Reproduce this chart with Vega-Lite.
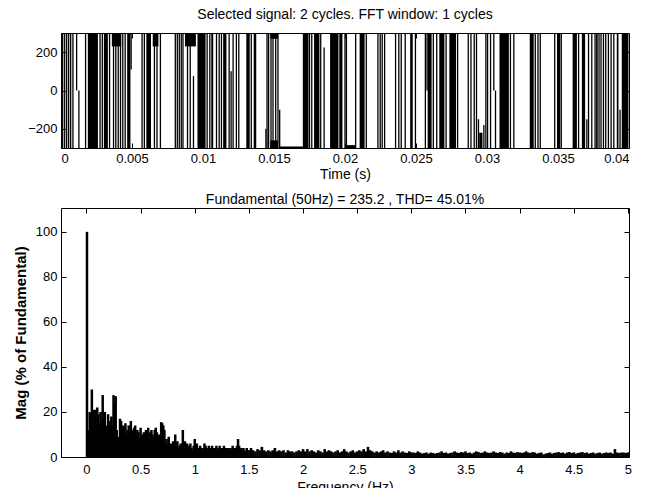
{
"$schema": "https://vega.github.io/schema/vega-lite/v6.json",
"background": "white",
"padding": {"left": 12, "top": 7, "right": 5, "bottom": 5},
"spacing": 10,
"config": {
  "font": "Liberation Sans",
  "view": {"stroke": "black", "strokeWidth": 1},
  "axis": {"grid": false, "domain": false, "tickColor": "black", "tickSize": -5, "labelColor": "black", "labelFontSize": 13, "labelPadding": 9, "titleFontSize": 14, "titleFontWeight": "normal", "titleColor": "black", "titlePadding": 2},
  "title": {"fontSize": 14, "fontWeight": "normal", "color": "black"}
},
"datasets": {
  "blocks": [
    {"t0":0.00189,"t1":0.00260,"lo":-300,"hi":300},
    {"t0":0.00302,"t1":0.00330,"lo":-300,"hi":300},
    {"t0":0.00358,"t1":0.00424,"lo":230,"hi":300},
    {"t0":0.00466,"t1":0.00489,"lo":-300,"hi":300},
    {"t0":0.00601,"t1":0.00634,"lo":-300,"hi":300},
    {"t0":0.00646,"t1":0.00686,"lo":230,"hi":300},
    {"t0":0.00873,"t1":0.00950,"lo":230,"hi":300},
    {"t0":0.00961,"t1":0.01018,"lo":-300,"hi":300},
    {"t0":0.01058,"t1":0.01072,"lo":-300,"hi":300},
    {"t0":0.01142,"t1":0.01165,"lo":-300,"hi":300},
    {"t0":0.01305,"t1":0.01329,"lo":-300,"hi":300},
    {"t0":0.01357,"t1":0.01375,"lo":-300,"hi":300},
    {"t0":0.01474,"t1":0.01528,"lo":270,"hi":300},
    {"t0":0.01474,"t1":0.01528,"lo":-300,"hi":-260},
    {"t0":0.01540,"t1":0.01703,"lo":-300,"hi":-292},
    {"t0":0.01703,"t1":0.01743,"lo":-300,"hi":300},
    {"t0":0.01782,"t1":0.01820,"lo":-300,"hi":300},
    {"t0":0.01895,"t1":0.01954,"lo":-300,"hi":300},
    {"t0":0.01963,"t1":0.01982,"lo":-300,"hi":300},
    {"t0":0.02000,"t1":0.02070,"lo":-300,"hi":-285},
    {"t0":0.02103,"t1":0.02138,"lo":-300,"hi":300},
    {"t0":0.02459,"t1":0.02477,"lo":-300,"hi":300},
    {"t0":0.02582,"t1":0.02610,"lo":-300,"hi":300},
    {"t0":0.02664,"t1":0.02700,"lo":-300,"hi":300},
    {"t0":0.02735,"t1":0.02782,"lo":-300,"hi":300},
    {"t0":0.02945,"t1":0.02968,"lo":-300,"hi":-220},
    {"t0":0.03088,"t1":0.03154,"lo":-300,"hi":300},
    {"t0":0.03301,"t1":0.03329,"lo":-300,"hi":300},
    {"t0":0.03493,"t1":0.03516,"lo":-300,"hi":300},
    {"t0":0.03603,"t1":0.03633,"lo":-300,"hi":300},
    {"t0":0.03668,"t1":0.03691,"lo":-300,"hi":300},
    {"t0":0.03768,"t1":0.03780,"lo":-300,"hi":300},
    {"t0":0.03914,"t1":0.03926,"lo":-300,"hi":300},
    {"t0":0.03949,"t1":0.03996,"lo":-300,"hi":300}
  ],
  "lines": [
    {"t":0.00012,"lo":-300,"hi":300},{"t":0.00026,"lo":-300,"hi":300},{"t":0.00040,"lo":-300,"hi":300},
    {"t":0.00054,"lo":-300,"hi":300},{"t":0.00068,"lo":-300,"hi":300},{"t":0.00084,"lo":-300,"hi":300},
    {"t":0.00110,"lo":0,"hi":300},{"t":0.00126,"lo":-300,"hi":0},{"t":0.00173,"lo":-300,"hi":300},
    {"t":0.00275,"lo":-300,"hi":300},{"t":0.00291,"lo":-300,"hi":300},{"t":0.00342,"lo":-300,"hi":300},
    {"t":0.00370,"lo":-300,"hi":300},{"t":0.00386,"lo":-300,"hi":300},{"t":0.00403,"lo":-300,"hi":300},
    {"t":0.00419,"lo":-300,"hi":300},{"t":0.00435,"lo":-300,"hi":300},{"t":0.00452,"lo":-300,"hi":300},
    {"t":0.00494,"lo":110,"hi":300},{"t":0.00571,"lo":-300,"hi":300},{"t":0.00587,"lo":-300,"hi":300},
    {"t":0.00658,"lo":-300,"hi":300},{"t":0.00676,"lo":-300,"hi":300},{"t":0.00700,"lo":-300,"hi":300},
    {"t":0.00805,"lo":-300,"hi":300},{"t":0.00819,"lo":-300,"hi":300},{"t":0.00833,"lo":-300,"hi":300},
    {"t":0.00847,"lo":-300,"hi":300},{"t":0.00859,"lo":-300,"hi":300},{"t":0.00891,"lo":-300,"hi":300},
    {"t":0.00910,"lo":-300,"hi":300},{"t":0.00933,"lo":-300,"hi":75},{"t":0.01029,"lo":-300,"hi":300},
    {"t":0.01048,"lo":-300,"hi":300},{"t":0.01095,"lo":-300,"hi":300},{"t":0.01114,"lo":-300,"hi":300},
    {"t":0.01130,"lo":-300,"hi":300},{"t":0.01184,"lo":-300,"hi":300},{"t":0.01198,"lo":-300,"hi":100},
    {"t":0.01212,"lo":-300,"hi":300},{"t":0.01235,"lo":-300,"hi":300},{"t":0.01252,"lo":-300,"hi":300},
    {"t":0.01340,"lo":-300,"hi":300},{"t":0.01443,"lo":-300,"hi":-200},{"t":0.01451,"lo":-300,"hi":300},
    {"t":0.01462,"lo":-300,"hi":300},{"t":0.01479,"lo":-300,"hi":300},{"t":0.01493,"lo":-300,"hi":300},
    {"t":0.01512,"lo":-300,"hi":300},{"t":0.01528,"lo":-300,"hi":300},{"t":0.01540,"lo":-300,"hi":-100},
    {"t":0.01750,"lo":-300,"hi":300},{"t":0.01766,"lo":-300,"hi":300},{"t":0.01829,"lo":-300,"hi":300},
    {"t":0.01853,"lo":-300,"hi":225},{"t":0.01965,"lo":-300,"hi":300},{"t":0.02000,"lo":-300,"hi":300},
    {"t":0.02010,"lo":-300,"hi":300},{"t":0.02075,"lo":-300,"hi":300},{"t":0.02150,"lo":-300,"hi":300},
    {"t":0.02232,"lo":-300,"hi":300},{"t":0.02248,"lo":-300,"hi":300},{"t":0.02262,"lo":-300,"hi":300},
    {"t":0.02279,"lo":-300,"hi":300},{"t":0.02356,"lo":-300,"hi":300},{"t":0.02379,"lo":-300,"hi":300},
    {"t":0.02396,"lo":-300,"hi":300},{"t":0.02424,"lo":-300,"hi":300},{"t":0.02496,"lo":-300,"hi":300},
    {"t":0.02566,"lo":-300,"hi":300},{"t":0.02578,"lo":0,"hi":300},{"t":0.02622,"lo":-300,"hi":300},
    {"t":0.02646,"lo":-300,"hi":300},{"t":0.02712,"lo":-300,"hi":300},{"t":0.02793,"lo":-300,"hi":300},
    {"t":0.02868,"lo":-300,"hi":300},{"t":0.02887,"lo":-300,"hi":300},{"t":0.02910,"lo":-300,"hi":300},
    {"t":0.02926,"lo":-300,"hi":300},{"t":0.02940,"lo":-300,"hi":-150},{"t":0.02978,"lo":-300,"hi":-180},
    {"t":0.02992,"lo":-300,"hi":300},{"t":0.03004,"lo":-300,"hi":300},{"t":0.03025,"lo":-300,"hi":300},
    {"t":0.03048,"lo":0,"hi":300},{"t":0.03060,"lo":-300,"hi":0},{"t":0.03165,"lo":-300,"hi":300},
    {"t":0.03189,"lo":-300,"hi":300},{"t":0.03340,"lo":-300,"hi":300},{"t":0.03359,"lo":-300,"hi":300},
    {"t":0.03375,"lo":-300,"hi":300},{"t":0.03477,"lo":-300,"hi":300},{"t":0.03523,"lo":-300,"hi":300},
    {"t":0.03645,"lo":-300,"hi":300},{"t":0.03703,"lo":-300,"hi":-150},{"t":0.03715,"lo":-300,"hi":300},
    {"t":0.03738,"lo":-300,"hi":300},{"t":0.03761,"lo":-300,"hi":300},{"t":0.03789,"lo":-300,"hi":300},
    {"t":0.03803,"lo":-300,"hi":300},{"t":0.03820,"lo":-300,"hi":300},{"t":0.03836,"lo":-300,"hi":300},
    {"t":0.03855,"lo":-300,"hi":300},{"t":0.03874,"lo":-300,"hi":300},{"t":0.03893,"lo":-300,"hi":300},
    {"t":0.03937,"lo":-300,"hi":-100}
  ],
  "spectrum": [
    {"f":0.005,"m":100},
    {"f":0.01,"m":9},{"f":0.02,"m":12},{"f":0.03,"m":20},{"f":0.04,"m":18},{"f":0.05,"m":30},{"f":0.06,"m":21},{"f":0.07,"m":17},{"f":0.08,"m":21},{"f":0.09,"m":14},{"f":0.10,"m":22},
    {"f":0.11,"m":19},{"f":0.12,"m":15},{"f":0.13,"m":20},{"f":0.14,"m":16},{"f":0.15,"m":27.5},{"f":0.16,"m":17},{"f":0.17,"m":20},{"f":0.18,"m":14},{"f":0.19,"m":12},{"f":0.20,"m":19},
    {"f":0.21,"m":16},{"f":0.22,"m":13},{"f":0.23,"m":18},{"f":0.24,"m":14},{"f":0.25,"m":27.5},{"f":0.26,"m":24},{"f":0.27,"m":27},{"f":0.28,"m":12},{"f":0.29,"m":9},{"f":0.30,"m":8},
    {"f":0.31,"m":17},{"f":0.32,"m":16},{"f":0.33,"m":11},{"f":0.34,"m":14},{"f":0.35,"m":13},{"f":0.36,"m":15},{"f":0.37,"m":10},{"f":0.38,"m":12},{"f":0.39,"m":14},{"f":0.40,"m":11},
    {"f":0.41,"m":16},{"f":0.42,"m":12},{"f":0.43,"m":10},{"f":0.44,"m":13},{"f":0.45,"m":14},{"f":0.46,"m":9},{"f":0.47,"m":12},{"f":0.48,"m":11},{"f":0.49,"m":8},{"f":0.50,"m":13},
    {"f":0.51,"m":9},{"f":0.52,"m":10},{"f":0.53,"m":11},{"f":0.54,"m":8},{"f":0.55,"m":12},{"f":0.56,"m":9},{"f":0.57,"m":13},{"f":0.58,"m":8},{"f":0.59,"m":11},{"f":0.60,"m":12},
    {"f":0.61,"m":10},{"f":0.62,"m":9},{"f":0.63,"m":12},{"f":0.64,"m":13},{"f":0.65,"m":11},{"f":0.66,"m":8},{"f":0.67,"m":10},{"f":0.68,"m":7},{"f":0.69,"m":15.5},{"f":0.70,"m":15},
    {"f":0.71,"m":14},{"f":0.72,"m":12},{"f":0.73,"m":6},{"f":0.74,"m":8},{"f":0.75,"m":5},{"f":0.76,"m":9},{"f":0.77,"m":5},{"f":0.78,"m":6},{"f":0.79,"m":4},{"f":0.80,"m":7},
    {"f":0.81,"m":6},{"f":0.82,"m":10},{"f":0.83,"m":5},{"f":0.84,"m":7},{"f":0.85,"m":4},{"f":0.86,"m":5},{"f":0.87,"m":6},{"f":0.88,"m":5},{"f":0.89,"m":12},{"f":0.90,"m":5},
    {"f":0.91,"m":7},{"f":0.92,"m":5},{"f":0.93,"m":6},{"f":0.94,"m":4},{"f":0.95,"m":5},{"f":0.96,"m":6},{"f":0.97,"m":4},{"f":0.98,"m":3},{"f":0.99,"m":5},{"f":1.00,"m":8},
    {"f":1.01,"m":5},{"f":1.02,"m":6},{"f":1.03,"m":4},{"f":1.04,"m":3},{"f":1.05,"m":5},{"f":1.06,"m":4},{"f":1.07,"m":3},{"f":1.08,"m":4},{"f":1.09,"m":6},{"f":1.10,"m":5},
    {"f":1.11,"m":4},{"f":1.12,"m":3},{"f":1.13,"m":5},{"f":1.14,"m":4},{"f":1.15,"m":3},{"f":1.16,"m":5},{"f":1.17,"m":4},{"f":1.18,"m":3},{"f":1.19,"m":4},{"f":1.20,"m":5},
    {"f":1.21,"m":3},{"f":1.22,"m":4},{"f":1.23,"m":5},{"f":1.24,"m":3},{"f":1.25,"m":4},{"f":1.26,"m":3},{"f":1.27,"m":5},{"f":1.28,"m":4},{"f":1.29,"m":3},{"f":1.30,"m":4},
    {"f":1.31,"m":3},{"f":1.32,"m":4},{"f":1.33,"m":3},{"f":1.34,"m":4},{"f":1.35,"m":5},{"f":1.36,"m":3},{"f":1.37,"m":4},{"f":1.38,"m":3},{"f":1.39,"m":5},{"f":1.40,"m":8},
    {"f":1.41,"m":5},{"f":1.42,"m":3},{"f":1.43,"m":4},{"f":1.44,"m":3},{"f":1.45,"m":4},{"f":1.46,"m":3},{"f":1.47,"m":2.5},{"f":1.48,"m":4},{"f":1.49,"m":3},{"f":1.50,"m":3},
    {"f":1.52,"m":4},{"f":1.54,"m":3},{"f":1.56,"m":2.5},{"f":1.58,"m":3.5},{"f":1.60,"m":3},{"f":1.62,"m":4.5},{"f":1.64,"m":3},{"f":1.66,"m":2.5},{"f":1.68,"m":3},{"f":1.70,"m":2.5},
    {"f":1.72,"m":3},{"f":1.74,"m":4},{"f":1.76,"m":2.5},{"f":1.78,"m":3},{"f":1.80,"m":2.5},{"f":1.82,"m":3},{"f":1.84,"m":2},{"f":1.86,"m":3},{"f":1.88,"m":2.5},{"f":1.90,"m":2.5},
    {"f":1.92,"m":2},{"f":1.94,"m":2.5},{"f":1.96,"m":3},{"f":1.98,"m":2.5},{"f":2.00,"m":3.5},
    {"f":2.02,"m":2.5},{"f":2.04,"m":3.5},{"f":2.06,"m":2.5},{"f":2.08,"m":3},{"f":2.10,"m":2.5},{"f":2.12,"m":2},{"f":2.14,"m":3},{"f":2.16,"m":2.5},{"f":2.18,"m":2},{"f":2.20,"m":3.5},
    {"f":2.22,"m":2.5},{"f":2.24,"m":3},{"f":2.26,"m":2.5},{"f":2.28,"m":2},{"f":2.30,"m":2.5},{"f":2.32,"m":3},{"f":2.34,"m":2},{"f":2.36,"m":2.5},{"f":2.38,"m":3.5},{"f":2.40,"m":2.5},
    {"f":2.42,"m":2},{"f":2.44,"m":2.5},{"f":2.46,"m":3},{"f":2.48,"m":2},{"f":2.50,"m":2.5},{"f":2.52,"m":3},{"f":2.54,"m":2.5},{"f":2.56,"m":3.5},{"f":2.58,"m":2.5},{"f":2.60,"m":4.5},
    {"f":2.62,"m":3},{"f":2.64,"m":2.5},{"f":2.66,"m":2},{"f":2.68,"m":2.5},{"f":2.70,"m":2},{"f":2.72,"m":2.5},{"f":2.74,"m":3},{"f":2.76,"m":2},{"f":2.78,"m":2.5},{"f":2.80,"m":2},
    {"f":2.82,"m":1.8},{"f":2.84,"m":2.5},{"f":2.86,"m":2},{"f":2.88,"m":3},{"f":2.90,"m":2},{"f":2.92,"m":2.5},{"f":2.94,"m":2},{"f":2.96,"m":1.8},{"f":2.98,"m":2.5},{"f":3.00,"m":2},
    {"f":3.02,"m":2},{"f":3.04,"m":1.8},{"f":3.06,"m":2.5},{"f":3.08,"m":2},{"f":3.10,"m":1.5},{"f":3.12,"m":1.8},{"f":3.14,"m":2},{"f":3.16,"m":1.5},{"f":3.18,"m":2},{"f":3.20,"m":1.8},
    {"f":3.22,"m":1.5},{"f":3.24,"m":1.8},{"f":3.26,"m":2},{"f":3.28,"m":2.5},{"f":3.30,"m":1.8},{"f":3.32,"m":2},{"f":3.34,"m":1.5},{"f":3.36,"m":1.8},{"f":3.38,"m":2},{"f":3.40,"m":2.5},
    {"f":3.42,"m":2},{"f":3.44,"m":1.8},{"f":3.46,"m":2.2},{"f":3.48,"m":2},{"f":3.50,"m":2.5},{"f":3.52,"m":1.8},{"f":3.54,"m":2},{"f":3.56,"m":1.5},{"f":3.58,"m":2},{"f":3.60,"m":2.5},
    {"f":3.62,"m":2.2},{"f":3.64,"m":1.8},{"f":3.66,"m":2},{"f":3.68,"m":2.5},{"f":3.70,"m":2},{"f":3.72,"m":1.8},{"f":3.74,"m":2},{"f":3.76,"m":2.5},{"f":3.78,"m":2},{"f":3.80,"m":1.8},
    {"f":3.82,"m":2.2},{"f":3.84,"m":2},{"f":3.86,"m":1.5},{"f":3.88,"m":2},{"f":3.90,"m":1.8},{"f":3.92,"m":2.5},{"f":3.94,"m":2},{"f":3.96,"m":1.8},{"f":3.98,"m":2.2},{"f":4.00,"m":2},
    {"f":4.02,"m":1.8},{"f":4.04,"m":2},{"f":4.06,"m":2.5},{"f":4.08,"m":2},{"f":4.10,"m":1.8},{"f":4.12,"m":2.2},{"f":4.14,"m":2},{"f":4.16,"m":1.5},{"f":4.18,"m":1.8},{"f":4.20,"m":2},
    {"f":4.22,"m":1.2},{"f":4.24,"m":1.5},{"f":4.26,"m":1.8},{"f":4.28,"m":2},{"f":4.30,"m":1.5},{"f":4.32,"m":1.8},{"f":4.34,"m":2},{"f":4.36,"m":2.2},{"f":4.38,"m":1.8},{"f":4.40,"m":2},
    {"f":4.42,"m":1.5},{"f":4.44,"m":2},{"f":4.46,"m":2.2},{"f":4.48,"m":1.8},{"f":4.50,"m":2},{"f":4.52,"m":1.5},{"f":4.54,"m":1.8},{"f":4.56,"m":2},{"f":4.58,"m":2.2},{"f":4.60,"m":1.8},
    {"f":4.62,"m":2},{"f":4.64,"m":1.5},{"f":4.66,"m":1.8},{"f":4.68,"m":2},{"f":4.70,"m":1.5},{"f":4.72,"m":1.8},{"f":4.74,"m":2},{"f":4.76,"m":1.5},{"f":4.78,"m":1.8},{"f":4.80,"m":2},
    {"f":4.82,"m":1.8},{"f":4.84,"m":2},{"f":4.86,"m":1.5},{"f":4.88,"m":3.5},{"f":4.90,"m":2},{"f":4.92,"m":1.8},{"f":4.94,"m":2},{"f":4.96,"m":2},{"f":4.98,"m":1.8},{"f":5.00,"m":2}
  ]
},
"vconcat": [
  {
    "title": {"text": "Selected signal: 2 cycles. FFT window: 1 cycles", "offset": 11},
    "width": 568,
    "height": 115,
    "resolve": {"axis": {"x": "independent", "y": "independent"}},
    "layer": [
      {
        "data": {"name": "blocks"},
        "mark": {"type": "rect", "color": "black", "clip": true},
        "encoding": {
          "x": {"field": "t0", "type": "quantitative", "scale": {"domain": [0, 0.04], "nice": false, "zero": false},
                "axis": {"values": [0, 0.005, 0.01, 0.015, 0.02, 0.025, 0.03, 0.035, 0.04], "format": "~g", "title": "Time (s)", "titlePadding": 2}},
          "x2": {"field": "t1"},
          "y": {"field": "lo", "type": "quantitative", "scale": {"domain": [-300, 300], "nice": false, "zero": false},
                "axis": {"values": [-200, 0, 200], "title": null}},
          "y2": {"field": "hi"}
        }
      },
      {
        "data": {"name": "lines"},
        "mark": {"type": "rule", "color": "black", "strokeWidth": 1.3, "clip": true},
        "encoding": {
          "x": {"field": "t", "type": "quantitative", "axis": null},
          "y": {"field": "lo", "type": "quantitative", "axis": null},
          "y2": {"field": "hi"}
        }
      },
      {
        "data": {"name": "lines"},
        "mark": {"type": "rule", "opacity": 0},
        "encoding": {
          "x": {"field": "t", "type": "quantitative", "axis": {"orient": "top", "labels": false, "title": null, "values": [0, 0.005, 0.01, 0.015, 0.02, 0.025, 0.03, 0.035, 0.04]}},
          "y": {"field": "lo", "type": "quantitative", "axis": {"orient": "right", "labels": false, "title": null, "values": [-200, 0, 200]}}
        }
      }
    ]
  },
  {
    "title": {"text": "Fundamental (50Hz) = 235.2 , THD= 45.01%", "offset": 1},
    "width": 568,
    "height": 249,
    "data": {"name": "spectrum"},
    "resolve": {"axis": {"x": "independent", "y": "independent"}},
    "layer": [
      {
        "transform": [{"filter": "datum.f <= 1.5"}],
        "mark": {"type": "rule", "color": "black", "strokeWidth": 2.5},
        "encoding": {
          "x": {"field": "f", "type": "quantitative", "scale": {"domain": [-0.235, 5.01], "nice": false, "zero": false},
                "axis": {"values": [0, 0.5, 1, 1.5, 2, 2.5, 3, 3.5, 4, 4.5, 5], "format": "~g", "title": "Frequency (Hz)", "titlePadding": 4, "labelPadding": 11}},
          "y": {"field": "m", "type": "quantitative", "scale": {"domain": [0, 110.6], "nice": false},
                "axis": {"values": [0, 20, 40, 60, 80, 100], "title": "Mag (% of Fundamental)", "titlePadding": 7, "titleFontWeight": "bold", "titleFontSize": 15}},
          "y2": {"datum": 0}
        }
      },
      {
        "transform": [{"filter": "datum.f > 1.5"}],
        "mark": {"type": "rule", "color": "black", "strokeWidth": 2.6},
        "encoding": {
          "x": {"field": "f", "type": "quantitative", "axis": null},
          "y": {"field": "m", "type": "quantitative", "axis": null},
          "y2": {"datum": 0}
        }
      },
      {
        "mark": {"type": "rule", "opacity": 0},
        "encoding": {
          "x": {"field": "f", "type": "quantitative", "axis": {"orient": "top", "labels": false, "title": null, "values": [0, 0.5, 1, 1.5, 2, 2.5, 3, 3.5, 4, 4.5, 5]}},
          "y": {"field": "m", "type": "quantitative", "axis": {"orient": "right", "labels": false, "title": null, "values": [0, 20, 40, 60, 80, 100]}},
          "y2": {"datum": 0}
        }
      }
    ]
  }
]
}
